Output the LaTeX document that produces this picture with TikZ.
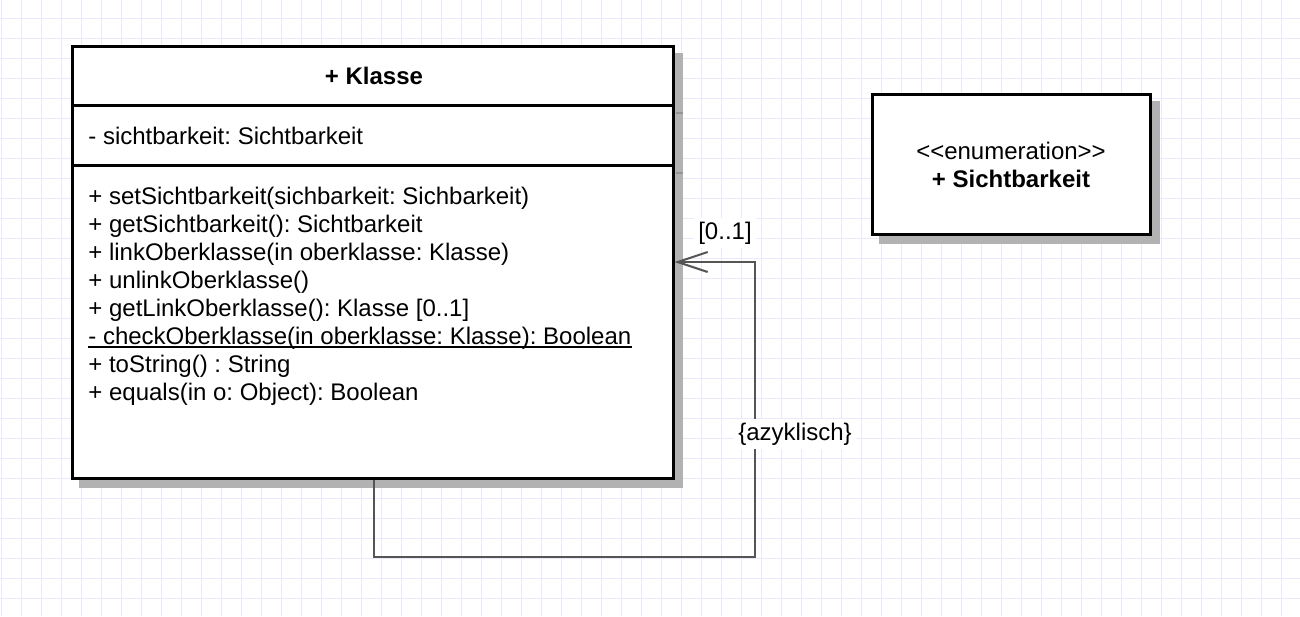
\documentclass[tikz,border=0pt]{standalone}
\usepackage{fontspec}
\setmainfont{Liberation Sans}
\usetikzlibrary{arrows.meta,shadows}
\definecolor{gridc}{RGB}{233,233,251}
\definecolor{shadowc}{RGB}{178,178,178}
\definecolor{connc}{RGB}{85,85,85}
\frenchspacing
\begin{document}
\begin{tikzpicture}[x=0.5pt,y=-0.5pt,
  gridline/.style={draw=gridc, line width=0.75pt},
  umlbox/.style={draw=black, line width=1.5pt, fill=white, inner sep=0pt,
    general shadow={fill=shadowc, draw=shadowc, shadow xshift=4pt, shadow yshift=-4pt}},
  boxline/.style={draw=black, line width=1.5pt},
  shadowtick/.style={draw=black!42, line width=0.8pt},
  txt/.style={inner sep=0pt, font=\fontsize{12pt}{14pt}\selectfont},
  txtb/.style={inner sep=0pt, font=\fontsize{12pt}{14pt}\selectfont\bfseries},
  lbl/.style={inner sep=2pt, fill=white, font=\fontsize{12pt}{14pt}\selectfont},
  assoc/.style={draw=connc, line width=1pt, -{Straight Barb[length=15pt,width=10pt]}}]
\useasboundingbox (0,0) rectangle (1300,616);
\fill[white] (0,0) rectangle (1300,616);
% grid
\foreach \i in {0,...,64} \draw[gridline] ({1.7+20*\i},0) -- ({1.7+20*\i},616);
\foreach \j in {1,...,31} \draw[gridline] (0,{-1.7+20*\j}) -- (1300,{-1.7+20*\j});
% class box
\node[umlbox, minimum width=300.5pt, minimum height=216pt] (klasse) at (372.5,262) {};
\draw[shadowtick] (675.5,113) -- (682.5,113);
\draw[shadowtick] (675.5,173) -- (682.5,173);
\draw[boxline] (72,105) -- (673,105);
\draw[boxline] (72,165) -- (673,165);
\node[txtb, anchor=base] (kname) at (374,84) {+ Klasse};
\node[txt, anchor=base west] (attr) at (88,144) {- sichtbarkeit: Sichtbarkeit};
\node[txt, anchor=base west] (m1) at (88,204) {+ setSichtbarkeit(sichbarkeit: Sichbarkeit)};
\node[txt, anchor=base west] (m2) at (88,232) {+ getSichtbarkeit(): Sichtbarkeit};
\node[txt, anchor=base west] (m3) at (88,260) {+ linkOberklasse(in oberklasse: Klasse)};
\node[txt, anchor=base west] (m4) at (88,288) {+ unlinkOberklasse()};
\node[txt, anchor=base west] (m5) at (88,316) {+ getLinkOberklasse(): Klasse [0..1]};
\node[txt, anchor=base west] (m6) at (88,344) {- checkOberklasse(in oberklasse: Klasse): Boolean};
\draw[line width=0.75pt] ([yshift=-1.4pt]m6.base west) -- ([yshift=-1.4pt]m6.base east);
\node[txt, anchor=base west] (m7) at (88,372) {+ toString() : String};
\node[txt, anchor=base west] (m8) at (88,400) {+ equals(in o: Object): Boolean};
% enumeration box
\node[umlbox, minimum width=139pt, minimum height=70pt] (enum) at (1011,164) {};
\node[txt, anchor=base] (stereo) at (1011,159) {<\kern0pt<enumeration>\kern0pt>};
\node[txtb, anchor=base] (ename) at (1011,187) {+ Sichtbarkeit};
% self association
\coordinate (loopBR) at (755,557);
\draw[assoc] ([xshift=0.75pt]klasse.south) |- (loopBR) |- (klasse.east);
\node[lbl, anchor=base] (mult) at (725,239) {[0..1]};
\node[lbl, anchor=base] (constr) at (795,440) {\{azyklisch\}};
\end{tikzpicture}
\end{document}
